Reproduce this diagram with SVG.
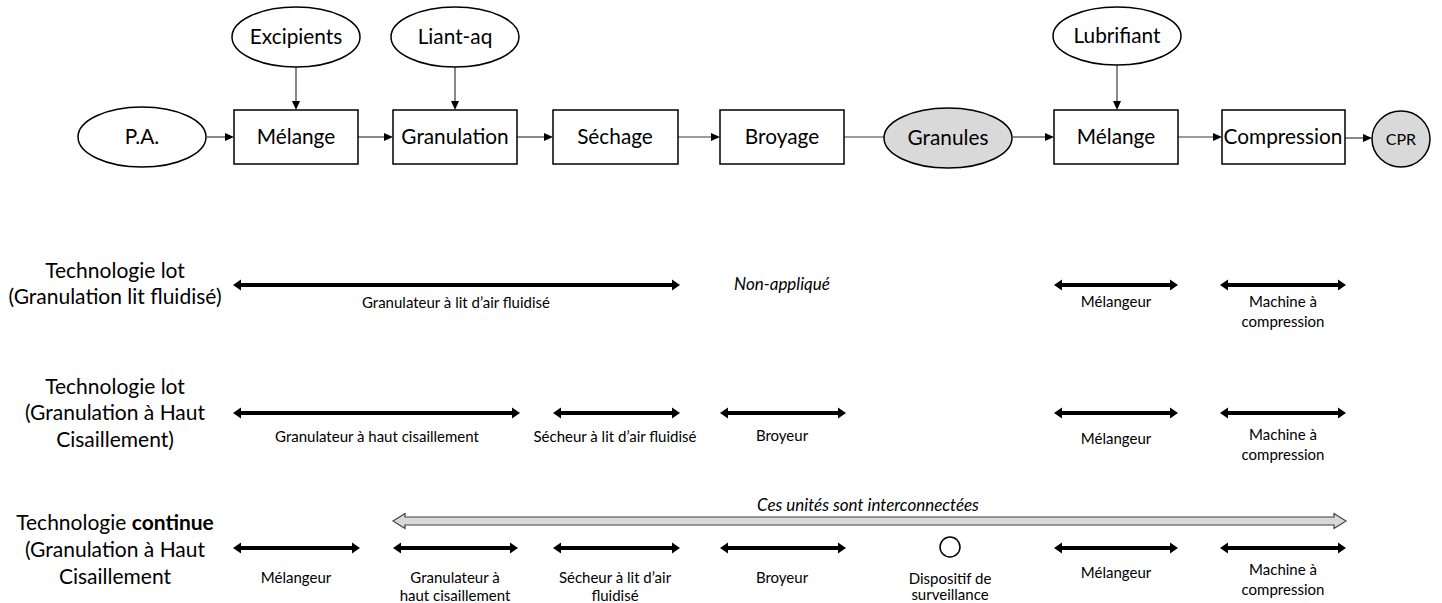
<svg xmlns="http://www.w3.org/2000/svg" width="1442" height="603" viewBox="0 0 1442 603">
  <style>
    .t{font-family:Lato,"Liberation Sans",sans-serif;fill:#000}
    .big{font-size:20.8px}
    .lab{font-size:21px}
    .sm{font-size:15px}
    .it{font-style:italic;font-size:17px}
    .box{fill:#fff;stroke:#000;stroke-width:1.5}
    .oval{fill:#fff;stroke:#000;stroke-width:1.5}
    .grey{fill:#d9d9d9}
    .flow{stroke:#3a3a3a;stroke-width:1.2;fill:none}
    .span{stroke:#000;stroke-width:4;fill:none}
  </style>
  <defs>
    <marker id="head" markerUnits="userSpaceOnUse" markerWidth="10" markerHeight="10" refX="0" refY="5" orient="auto">
      <path d="M0,1 L9,5 L0,9 Z" fill="#000"/>
    </marker>
    <marker id="bihead" markerUnits="userSpaceOnUse" markerWidth="10" markerHeight="12" refX="0" refY="6" orient="auto-start-reverse">
      <path d="M0,0.5 L8,6 L0,11.5 Z" fill="#000"/>
    </marker>
  </defs>
  <rect width="1442" height="603" fill="#fff"/>

  <!-- process flow connectors -->
  <g id="connectors">
    <line class="flow" x1="207" y1="137" x2="225" y2="137" marker-end="url(#head)"/>
    <line class="flow" x1="296" y1="67" x2="296" y2="101" marker-end="url(#head)"/>
    <line class="flow" x1="358" y1="137" x2="384" y2="137" marker-end="url(#head)"/>
    <line class="flow" x1="455" y1="67" x2="455" y2="101" marker-end="url(#head)"/>
    <line class="flow" x1="517" y1="137" x2="544" y2="137" marker-end="url(#head)"/>
    <line class="flow" x1="678" y1="137" x2="711" y2="137" marker-end="url(#head)"/>
    <line class="flow" x1="844" y1="137" x2="884" y2="137"/>
    <line class="flow" x1="1013" y1="137" x2="1045" y2="137" marker-end="url(#head)"/>
    <line class="flow" x1="1117" y1="65" x2="1117" y2="101" marker-end="url(#head)"/>
    <line class="flow" x1="1178" y1="137" x2="1213" y2="137" marker-end="url(#head)"/>
    <line class="flow" x1="1345" y1="138" x2="1363" y2="138" marker-end="url(#head)"/>
  </g>

  <!-- inputs -->
  <g id="pa"><ellipse class="oval" cx="142" cy="137" rx="64" ry="30"/><text class="t big" x="142" y="144" text-anchor="middle">P.A.</text></g>
  <g id="excipients"><ellipse class="oval" cx="296" cy="37" rx="64" ry="30"/><text class="t big" x="296" y="44" text-anchor="middle">Excipients</text></g>
  <g id="liant"><ellipse class="oval" cx="455" cy="37" rx="64" ry="30"/><text class="t big" x="455" y="44" text-anchor="middle">Liant-aq</text></g>
  <g id="lubrifiant"><ellipse class="oval" cx="1117" cy="36" rx="64" ry="29"/><text class="t big" x="1117" y="43" text-anchor="middle">Lubrifiant</text></g>

  <!-- unit operations -->
  <g id="melange1"><rect class="box" x="234" y="110" width="124" height="54"/><text class="t big" x="296" y="144" text-anchor="middle">Mélange</text></g>
  <g id="granulation"><rect class="box" x="393" y="110" width="124" height="54"/><text class="t big" x="455" y="144" text-anchor="middle">Granulation</text></g>
  <g id="sechage"><rect class="box" x="553" y="110" width="125" height="54"/><text class="t big" x="615" y="144" text-anchor="middle">Séchage</text></g>
  <g id="broyage"><rect class="box" x="720" y="110" width="124" height="54"/><text class="t big" x="782" y="144" text-anchor="middle">Broyage</text></g>
  <g id="granules"><ellipse class="oval grey" cx="948" cy="138" rx="64" ry="30"/><text class="t big" x="948" y="145" text-anchor="middle">Granules</text></g>
  <g id="melange2"><rect class="box" x="1054" y="110" width="124" height="54"/><text class="t big" x="1116" y="144" text-anchor="middle">Mélange</text></g>
  <g id="compression"><rect class="box" x="1222" y="110" width="123" height="54"/><text class="t big" x="1283" y="144" text-anchor="middle">Compression</text></g>
  <g id="cpr"><ellipse class="oval grey" cx="1401" cy="139" rx="29" ry="28"/><text class="t" font-size="16" x="1401" y="145" text-anchor="middle">CPR</text></g>

  <!-- row 1: batch, fluid-bed granulation -->
  <g id="row-lot-lit">
    <text class="t lab" text-anchor="middle"><tspan x="115" y="278">Technologie lot</tspan><tspan x="115" y="304">(Granulation lit fluidisé)</tspan></text>
    <line class="span" x1="241" y1="285" x2="672" y2="285" marker-start="url(#bihead)" marker-end="url(#bihead)"/>
    <text class="t sm" x="456" y="308" text-anchor="middle">Granulateur à lit d’air fluidisé</text>
    <text class="t it" x="782" y="290" text-anchor="middle">Non-appliqué</text>
    <line class="span" x1="1062" y1="285" x2="1170" y2="285" marker-start="url(#bihead)" marker-end="url(#bihead)"/>
    <text class="t sm" x="1116" y="307" text-anchor="middle">Mélangeur</text>
    <line class="span" x1="1228" y1="285" x2="1338" y2="285" marker-start="url(#bihead)" marker-end="url(#bihead)"/>
    <text class="t sm" text-anchor="middle"><tspan x="1283" y="307">Machine à</tspan><tspan x="1283" y="327">compression</tspan></text>
  </g>

  <!-- row 2: batch, high-shear granulation -->
  <g id="row-lot-haut">
    <text class="t lab" text-anchor="middle"><tspan x="115" y="394">Technologie lot</tspan><tspan x="115" y="420">(Granulation à Haut</tspan><tspan x="115" y="447">Cisaillement)</tspan></text>
    <line class="span" x1="241" y1="413" x2="512" y2="413" marker-start="url(#bihead)" marker-end="url(#bihead)"/>
    <text class="t sm" x="377" y="442" text-anchor="middle">Granulateur à haut cisaillement</text>
    <line class="span" x1="561" y1="413" x2="672" y2="413" marker-start="url(#bihead)" marker-end="url(#bihead)"/>
    <text class="t sm" x="615" y="442" text-anchor="middle">Sécheur à lit d’air fluidisé</text>
    <line class="span" x1="728" y1="413" x2="838" y2="413" marker-start="url(#bihead)" marker-end="url(#bihead)"/>
    <text class="t sm" x="782" y="441" text-anchor="middle">Broyeur</text>
    <line class="span" x1="1062" y1="413" x2="1170" y2="413" marker-start="url(#bihead)" marker-end="url(#bihead)"/>
    <text class="t sm" x="1116" y="444" text-anchor="middle">Mélangeur</text>
    <line class="span" x1="1228" y1="413" x2="1338" y2="413" marker-start="url(#bihead)" marker-end="url(#bihead)"/>
    <text class="t sm" text-anchor="middle"><tspan x="1283" y="440">Machine à</tspan><tspan x="1283" y="460">compression</tspan></text>
  </g>

  <!-- row 3: continuous, high-shear granulation -->
  <g id="row-continue">
    <text class="t lab" text-anchor="middle"><tspan x="115" y="530">Technologie <tspan font-weight="bold">continue</tspan></tspan><tspan x="115" y="557">(Granulation à Haut</tspan><tspan x="115" y="584">Cisaillement</tspan></text>
    <path d="M393,521 L405,513.5 L405,517 L1334,517 L1334,513.5 L1346,521 L1334,528.5 L1334,525 L405,525 L405,528.5 Z" fill="#d9d9d9" stroke="#404040" stroke-width="1.2"/>
    <text class="t it" x="868" y="511" text-anchor="middle">Ces unités sont interconnectées</text>
    <line class="span" x1="241" y1="548" x2="352" y2="548" marker-start="url(#bihead)" marker-end="url(#bihead)"/>
    <text class="t sm" x="296" y="583" text-anchor="middle">Mélangeur</text>
    <line class="span" x1="401" y1="548" x2="510" y2="548" marker-start="url(#bihead)" marker-end="url(#bihead)"/>
    <text class="t sm" text-anchor="middle"><tspan x="455" y="583">Granulateur à</tspan><tspan x="455" y="601">haut cisaillement</tspan></text>
    <line class="span" x1="561" y1="548" x2="672" y2="548" marker-start="url(#bihead)" marker-end="url(#bihead)"/>
    <text class="t sm" text-anchor="middle"><tspan x="615" y="583">Sécheur à lit d’air</tspan><tspan x="615" y="601">fluidisé</tspan></text>
    <line class="span" x1="728" y1="548" x2="838" y2="548" marker-start="url(#bihead)" marker-end="url(#bihead)"/>
    <text class="t sm" x="782" y="583" text-anchor="middle">Broyeur</text>
    <circle cx="950" cy="547" r="10" fill="#fff" stroke="#000" stroke-width="1.5"/>
    <text class="t sm" text-anchor="middle"><tspan x="950" y="584">Dispositif de</tspan><tspan x="950" y="600">surveillance</tspan></text>
    <line class="span" x1="1062" y1="548" x2="1170" y2="548" marker-start="url(#bihead)" marker-end="url(#bihead)"/>
    <text class="t sm" x="1116" y="578" text-anchor="middle">Mélangeur</text>
    <line class="span" x1="1228" y1="548" x2="1338" y2="548" marker-start="url(#bihead)" marker-end="url(#bihead)"/>
    <text class="t sm" text-anchor="middle"><tspan x="1283" y="575">Machine à</tspan><tspan x="1283" y="595">compression</tspan></text>
  </g>
</svg>
